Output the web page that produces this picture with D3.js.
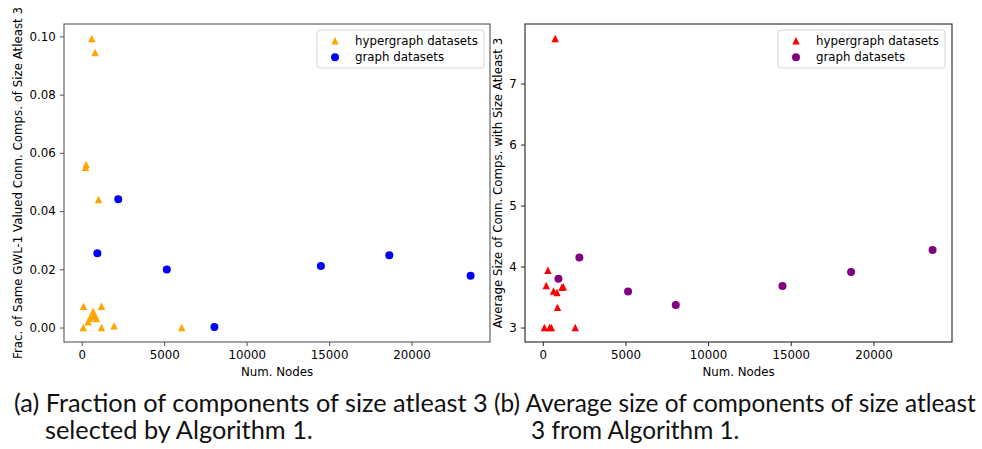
<!DOCTYPE html>
<html><head><meta charset="utf-8">
<script src="https://cdn.jsdelivr.net/npm/d3@7"></script>
<style>body{margin:0;background:#fff}svg{display:block}</style>
</head><body>
<svg id="c" width="982" height="449"></svg>
<script>
// ---- data ----
const graphNodes = [950, 2215, 5160, 8045, 14500, 18650, 23580];
const graphFrac = [0.0255, 0.0441, 0.0199, 0.0002, 0.0211, 0.0248, 0.0178];
const graphAvg = [3.80, 4.15, 3.59, 3.37, 3.68, 3.91, 4.27];

const hyperNodesA = [612, 812, 270, 230, 1017, 110, 1199, 690, 752, 490, 388, 896, 620, 100, 1199, 1962, 6063];
const hyperFrac = [0.0993, 0.0945, 0.0560, 0.0550, 0.0440, 0.0073, 0.0073, 0.0056, 0.0045, 0.0032, 0.0020, 0.0031, 0.0038, 0.0000, 0.0000, 0.0006, 0.0000];

const hyperNodesB = [755, 314, 211, 653, 858, 1160, 1240, 894, 100, 411, 520, 1964];
const hyperAvg = [7.74, 3.94, 3.69, 3.60, 3.575, 3.66, 3.67, 3.33, 3.0, 3.0, 3.0, 3.0];

const xTicks = [0, 5000, 10000, 15000, 20000];
const yTicksA = [0, 0.02, 0.04, 0.06, 0.08, 0.10];
const yTicksB = [3, 4, 5, 6, 7];
const legendLabels = ["hypergraph datasets", "graph datasets"];
const xLabel = "Num. Nodes";
const yLabelA = "Frac. of Same GWL-1 Valued Conn. Comps. of Size Atleast 3";
const yLabelB = "Average Size of Conn. Comps. with Size Atleast 3";
const captionA = ["(a) Fraction of components of size atleast 3", "selected by Algorithm 1."];
const captionB = ["(b) Average size of components of size atleast", "3 from Algorithm 1."];

const svg = d3.select("#c");
const FONT = "DejaVu Sans";
const FS = 11.8;

function pad(ext){ const r = ext[1]-ext[0]; return [ext[0]-0.05*r, ext[1]+0.05*r]; }

function triPath(s){ return `M0,${-s}L${s},${s}L${-s},${s}Z`; }

function panel(o){
  const g = svg.append("g");
  const xs = d3.scaleLinear().domain(pad(d3.extent(o.hx.concat(o.gx)))).range([o.l, o.r]);
  const ys = d3.scaleLinear().domain(pad(d3.extent(o.hy.concat(o.gy)))).range([o.b, o.t]);
  const tickLen = 4.1, tickPad = 4.1;
  // axes
  const xa = d3.axisBottom(xs).tickValues(xTicks).tickSize(tickLen).tickPadding(tickPad).tickFormat(d3.format("d"));
  const ya = d3.axisLeft(ys).tickValues(o.yTicks).tickSize(tickLen).tickPadding(tickPad).tickFormat(o.yFmt);
  const gx = g.append("g").attr("transform", `translate(0,${o.b})`).call(xa);
  const gy = g.append("g").attr("transform", `translate(${o.l},0)`).call(ya);
  [gx, gy].forEach(a => {
    a.select(".domain").remove();
    a.selectAll("line").attr("stroke", o.spine).attr("stroke-width", 1);
    a.selectAll("text").attr("font-family", FONT).attr("font-size", FS).attr("fill", "#000");
  });
  // frame
  g.append("rect").attr("x", o.l).attr("y", o.t).attr("width", o.r-o.l).attr("height", o.b-o.t)
    .attr("fill", "none").attr("stroke", o.spine).attr("stroke-width", 1.1);
  // points
  g.selectAll(".tri").data(o.hx.map((x,i)=>[x,o.hy[i]])).join("path")
    .attr("d", triPath(3.7)).attr("fill", o.hc)
    .attr("transform", d => `translate(${xs(d[0])},${ys(d[1])})`);
  g.selectAll(".dot").data(o.gx.map((x,i)=>[x,o.gy[i]])).join("circle")
    .attr("cx", d => xs(d[0])).attr("cy", d => ys(d[1])).attr("r", 4).attr("fill", o.gc);
  // labels
  g.append("text").attr("x", (o.l+o.r)/2).attr("y", 376).attr("text-anchor", "middle")
    .attr("font-family", FONT).attr("font-size", FS).text(xLabel);
  g.append("text").attr("transform", `translate(${o.ylx},${(o.t+o.b)/2}) rotate(-90)`)
    .attr("text-anchor", "middle").attr("dominant-baseline", "middle")
    .attr("font-family", FONT).attr("font-size", FS).text(o.yLabel);
  // legend
  const lg = g.append("g");
  lg.append("rect").attr("x", o.lgx).attr("y", 30).attr("width", 167).attr("height", 38).attr("rx", 3)
    .attr("fill", "#fff").attr("fill-opacity", 0.8).attr("stroke", "#d5d5d5").attr("stroke-width", 1);
  lg.append("path").attr("d", triPath(3.7)).attr("fill", o.hc)
    .attr("transform", `translate(${o.lgx+18},${40.7})`);
  lg.append("circle").attr("cx", o.lgx+18).attr("cy", 57.3).attr("r", 4).attr("fill", o.gc);
  legendLabels.forEach((t,i)=>{
    lg.append("text").attr("x", o.lgx+38).attr("y", 40.7+i*16.6).attr("dominant-baseline", "central")
      .attr("font-family", FONT).attr("font-size", FS).text(t);
  });
}

panel({l:64, r:490, t:24, b:342, hx:hyperNodesA, hy:hyperFrac, gx:graphNodes, gy:graphFrac,
  yTicks:yTicksA, yFmt:d3.format(".2f"), hc:"#FFA500", gc:"#0000FF", spine:"#555",
  ylx:18.3, yLabel:yLabelA, lgx:317});
panel({l:525, r:952, t:24, b:342, hx:hyperNodesB, hy:hyperAvg, gx:graphNodes, gy:graphAvg,
  yTicks:yTicksB, yFmt:d3.format("d"), hc:"#FF0000", gc:"#800080", spine:"#222",
  ylx:498, yLabel:yLabelB, lgx:778});

// captions
const CF = "Lato";
function caption(lines, x0, x1, indentX){
  const t1 = svg.append("text").attr("x", x0).attr("y", 411.7).attr("font-family", CF).attr("font-size", 20).attr("fill", "#111").text(lines[0]);
  const w = t1.node().getComputedTextLength();
  const fs = 20 * (x1 - x0) / w;
  t1.attr("font-size", fs);
  svg.append("text").attr("x", indentX).attr("y", 439).attr("font-family", CF).attr("font-size", fs).attr("fill", "#111").text(lines[1]);
}
caption(captionA, 14, 488, 45);
caption(captionB, 494, 976, 531);
</script>
</body></html>
